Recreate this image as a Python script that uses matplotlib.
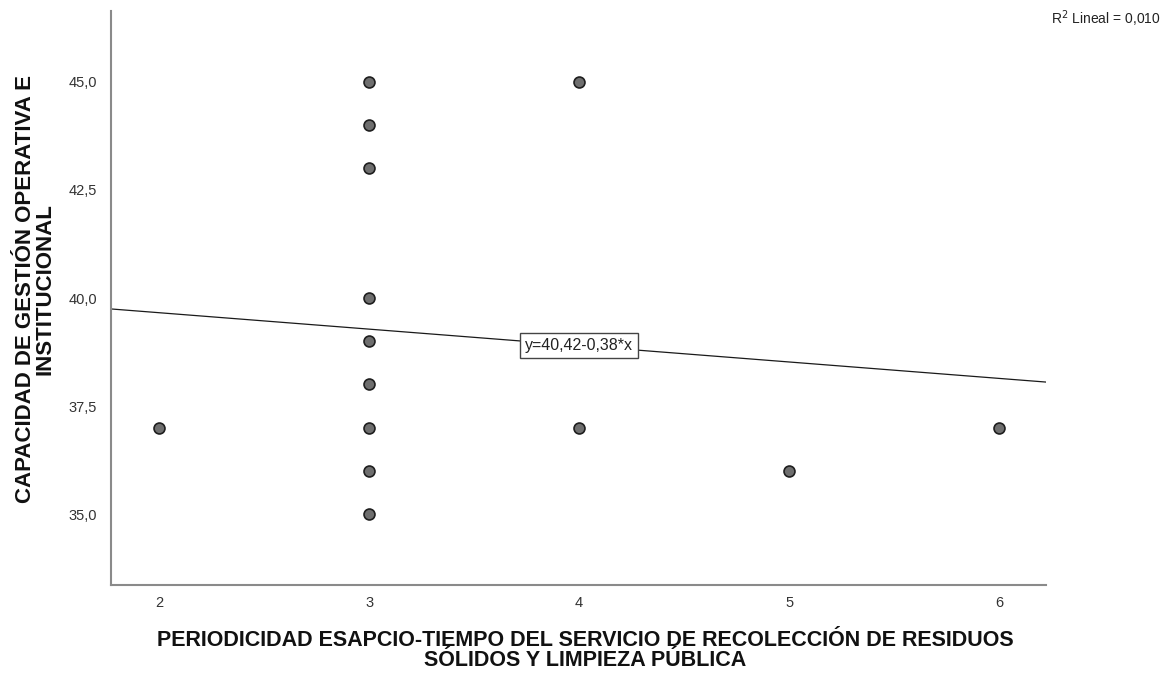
import matplotlib
matplotlib.use("Agg")
import matplotlib.pyplot as plt
import numpy as np
from matplotlib.ticker import FuncFormatter

plt.rcParams['font.family'] = ['Liberation Sans', 'DejaVu Sans']

# periodicity (x) vs. management capacity (y)
x_vals = [2, 3, 3, 3, 3, 3, 3, 3, 3, 3, 4, 4, 5, 6]
y_vals = [37, 45, 44, 43, 40, 39, 38, 37, 36, 35, 45, 37, 36, 37]

# fitted line reported on the chart
intercept = 40.42
slope = -0.38
r2 = 0.010

x_ticks = [2, 3, 4, 5, 6]
y_ticks = [35.0, 37.5, 40.0, 42.5, 45.0]

x_label = ('PERIODICIDAD ESAPCIO-TIEMPO DEL SERVICIO DE RECOLECCIÓN DE RESIDUOS\n'
           'SÓLIDOS Y LIMPIEZA PÚBLICA')
y_label = 'CAPACIDAD DE GESTIÓN OPERATIVA E\nINSTITUCIONAL'


def comma(v, pos=None):
    return f'{v:.1f}'.replace('.', ',')


fig = plt.figure(figsize=(11.72, 6.75), dpi=100)
ax = fig.add_axes([0.0947, 0.1333, 0.798, 0.8504])

xlim = (1.771, 6.224)
ylim = (33.36, 46.64)
ax.set_xlim(*xlim)
ax.set_ylim(*ylim)

# regression line across the full x range
xs = np.array(xlim)
ax.plot(xs, intercept + slope * xs, color='#1a1a1a', lw=0.9, zorder=2)

ax.scatter(x_vals, y_vals, s=62, facecolor='#6e6e6e', edgecolor='#1e1e1e',
           linewidth=1.2, zorder=3)

eq = 'y=' + f'{intercept:.2f}'.replace('.', ',') + '-' + \
     f'{abs(slope):.2f}'.replace('.', ',') + '*x'
ax.text(4, intercept + slope * 4, eq, fontsize=11.5,
        ha='center', va='center', color='#222222', zorder=4,
        bbox=dict(boxstyle='square,pad=0.3', facecolor='white',
                  edgecolor='#444444', linewidth=1))

ax.set_xticks(x_ticks)
ax.set_yticks(y_ticks)
ax.yaxis.set_major_formatter(FuncFormatter(comma))
ax.tick_params(length=0, labelsize=10.5, colors='#333333')
ax.tick_params(axis='y', pad=10)
ax.tick_params(axis='x', pad=8)

for side in ('top', 'right'):
    ax.spines[side].set_visible(False)
for side in ('left', 'bottom'):
    ax.spines[side].set_color('#8a8a8a')
    ax.spines[side].set_linewidth(1.5)

ax.set_xlabel(x_label, fontsize=15.5, fontweight='bold', linespacing=0.92,
              color='#111111', va='center')
ax.xaxis.set_label_coords(0.507, -0.114)
ax.set_ylabel(y_label, fontsize=16, fontweight='bold', linespacing=0.85,
              color='#111111', va='center')
ax.yaxis.set_label_coords(-0.081, 0.515)

fig.text(0.99, 0.972, r'R$^2$ Lineal = ' + f'{r2:.3f}'.replace('.', ','),
         fontsize=10, ha='right', va='center', color='#222222')

fig.savefig('out.png', dpi=100, facecolor='white')
